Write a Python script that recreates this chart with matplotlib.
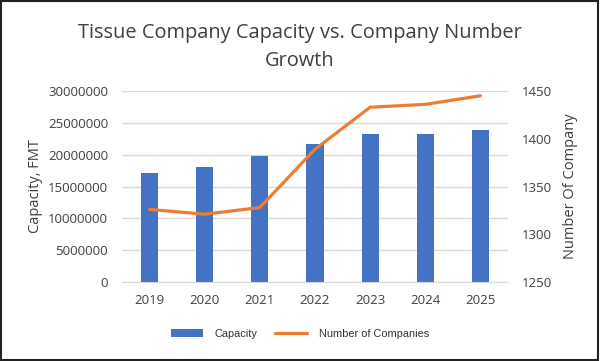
import matplotlib
matplotlib.use("Agg")
import matplotlib.pyplot as plt
from matplotlib.patches import Rectangle

years = ["2019", "2020", "2021", "2022", "2023", "2024", "2025"]
capacity = [17100000, 18100000, 19800000, 21600000, 23200000, 23200000, 23800000]
companies = [1326, 1321, 1328, 1389, 1433, 1436, 1445]
left_ticks = [0, 5000000, 10000000, 15000000, 20000000, 25000000, 30000000]
right_ticks = [1250, 1300, 1350, 1400, 1450]

plt.rcParams['font.family'] = ['Open Sans', 'DejaVu Sans']
txt = '#404040'

fig = plt.figure(figsize=(6, 3.61), dpi=100)
ax = fig.add_axes([122/600, 1-282/361, 386/600, (282-91)/361])
x = range(len(years))
ax.bar(x, capacity, width=0.31, color='#4472C4', zorder=2, label='Capacity')
ax.set_ylim(0, 30000000)
ax.set_yticks(left_ticks)
ax.set_yticklabels([str(v) for v in left_ticks])
ax.set_xlim(-0.5, len(years)-0.5)
ax.set_xticks(list(x))
ax.set_xticklabels(years)
ax.grid(axis='y', color='#d9d9d9', linewidth=1, zorder=0)
for s in ['top', 'right', 'left']:
    ax.spines[s].set_visible(False)
ax.spines['bottom'].set_color('#d9d9d9')
ax.tick_params(axis='y', length=0, labelsize=9.5, colors=txt, pad=10)
ax.tick_params(axis='x', length=0, labelsize=9.5, colors=txt, pad=9)
ax.set_ylabel('Capacity, FMT', fontsize=10.5, color=txt)
ax.yaxis.set_label_coords((43-122)/386, 0.5)

ax2 = ax.twinx()
ax2.plot(list(x), companies, color='#ED7D31', linewidth=2.3, zorder=3, label='Number of Companies',
         solid_capstyle='round')
ax2.set_ylim(1250, 1450)
ax2.set_yticks(right_ticks)
for s in ['top', 'right', 'left', 'bottom']:
    ax2.spines[s].set_visible(False)
ax2.tick_params(axis='both', length=0, labelsize=9.5, colors=txt, pad=10)
ax2.set_ylabel('Number Of Company', fontsize=10.5, color=txt)
ax2.yaxis.set_label_coords((563-122)/386, 0.5)

fig.text(0.5, 1-33/361, 'Tissue Company Capacity vs. Company Number', ha='center', va='center',
         fontsize=14.4, color=txt)
fig.text(0.5, 1-61/361, 'Growth', ha='center', va='center', fontsize=14.4, color=txt)

h1, l1 = ax.get_legend_handles_labels()
h2, l2 = ax2.get_legend_handles_labels()
leg = fig.legend(h1 + h2, l1 + l2, loc='center', bbox_to_anchor=(0.5, 1-334/361), ncol=2,
                 frameon=False, prop={'family': 'Liberation Sans', 'size': 7.9}, handlelength=2.9,
                 handleheight=0.65, columnspacing=1.6, handletextpad=1.1)
for t in leg.get_texts():
    t.set_color('#333333')

fig.patches.append(Rectangle((0.002, 0.003), 0.994, 0.994, transform=fig.transFigure,
                             fill=False, edgecolor='#222222', linewidth=1.5))
fig.savefig('out.png', dpi=100)
